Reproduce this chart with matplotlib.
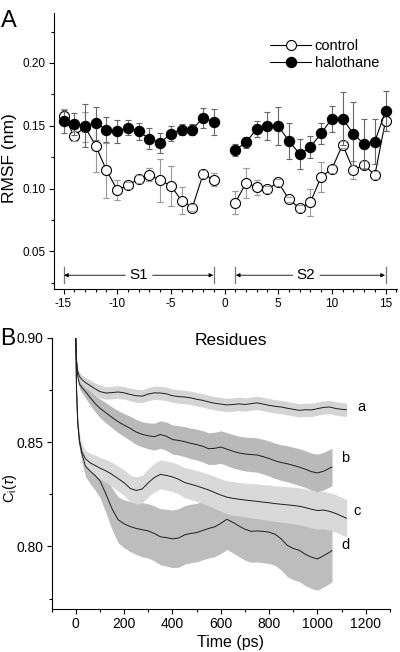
"""Two-panel figure: per-residue RMSF (A) and residue correlation decay C_i(tau) (B)."""
import matplotlib
matplotlib.use("Agg")
import matplotlib.pyplot as plt
from matplotlib.ticker import MultipleLocator, FormatStrFormatter
import numpy as np

plt.rcParams["font.family"] = ["Liberation Sans", "DejaVu Sans"]
plt.rcParams["mathtext.fontset"] = "custom"
plt.rcParams["mathtext.rm"] = "Liberation Sans"
plt.rcParams["mathtext.it"] = "Liberation Sans:italic"
plt.rcParams["axes.unicode_minus"] = False

# ── Panel A: RMSF per residue ────────────────────────────────
RES_S1 = [-15, -14, -13, -12, -11, -10, -9, -8, -7, -6, -5, -4, -3, -2, -1]
RES_S2 = [1, 2, 3, 4, 5, 6, 7, 8, 9, 10, 11, 12, 13, 14, 15]

CTRL_S1 = [0.158, 0.142, 0.149, 0.134, 0.1145, 0.099, 0.1025, 0.1077, 0.111,
           0.1066, 0.1022, 0.0904, 0.0849, 0.1114, 0.1072]
CTRL_S1_ERR = [0.005, 0.004, 0.012, 0.021, 0.022, 0.008, 0.003, 0.003, 0.005,
               0.017, 0.016, 0.011, 0.003, 0.003, 0.005]
HALO_S1 = [0.1535, 0.1513, 0.150, 0.152, 0.147, 0.1455, 0.1485, 0.1455, 0.1397,
           0.1363, 0.1437, 0.147, 0.147, 0.1565, 0.153]
HALO_S1_ERR = [0.009, 0.009, 0.017, 0.013, 0.010, 0.009, 0.006, 0.007, 0.0085,
               0.008, 0.006, 0.004, 0.004, 0.008, 0.010]

CTRL_S2 = [0.0888, 0.1043, 0.1011, 0.0993, 0.105, 0.0914, 0.0843, 0.089, 0.1093,
           0.1156, 0.135, 0.1148, 0.119, 0.1106, 0.154]
CTRL_S2_ERR = [0.009, 0.012, 0.006, 0.003, 0.003, 0.002, 0.003, 0.011, 0.012,
               0.003, 0.003, 0.007, 0.003, 0.003, 0.008]
HALO_S2 = [0.1306, 0.1368, 0.1475, 0.1498, 0.1498, 0.1378, 0.1275, 0.1331, 0.144,
           0.1555, 0.1555, 0.1437, 0.1353, 0.1374, 0.1616]
HALO_S2_ERR = [0.0045, 0.0045, 0.0065, 0.011, 0.015, 0.014, 0.012, 0.009, 0.0085,
               0.0105, 0.021, 0.025, 0.020, 0.018, 0.016]

# segment brackets: (label, start, end, label x)
SEGMENTS = [("S1", -15, -1, -8.0), ("S2", 1, 15, 7.6)]

# ── Panel B: C_i(tau) curves ─────────────────────────────────
T_LONG = [0, 3, 8, 15, 25, 40, 60, 80, 100, 125, 150, 175, 200, 225, 250, 275,
          300, 325, 350, 375, 400, 425, 450, 475, 500, 525, 550, 575, 600, 625,
          650, 675, 700, 725, 750, 775, 800, 825, 850, 875, 900, 925, 950, 975,
          1000, 1025, 1050, 1075, 1100, 1120]
T_SHORT = [0, 3, 8, 15, 25, 40, 60, 80, 100, 125, 150, 175, 200, 225, 250, 275,
           300, 325, 350, 375, 400, 425, 450, 475, 500, 525, 550, 575, 600, 625,
           650, 675, 700, 725, 750, 775, 800, 825, 850, 875, 900, 925, 950, 975,
           1000, 1025, 1050, 1060]

CURVE_A = [0.900, 0.889, 0.884, 0.8815, 0.880, 0.8785, 0.8770, 0.8755, 0.8742,
           0.8735, 0.8737, 0.8740, 0.8736, 0.8728, 0.8722, 0.8720, 0.8730, 0.8736,
           0.8735, 0.8731, 0.8722, 0.8718, 0.8716, 0.8712, 0.8705, 0.8700, 0.8692,
           0.8686, 0.8682, 0.8678, 0.8680, 0.8683, 0.8680, 0.8684, 0.8688, 0.8682,
           0.8676, 0.8671, 0.8668, 0.8662, 0.8657, 0.8652, 0.8655, 0.8654, 0.8660,
           0.8666, 0.8668, 0.8661, 0.8657, 0.8655]
ERR_A = [0.0, 0.001, 0.0015, 0.002, 0.0022, 0.0025, 0.0027, 0.0028, 0.003, 0.003,
         0.003, 0.003, 0.003, 0.0031, 0.0031, 0.0031, 0.0031, 0.0032, 0.0032, 0.0032,
         0.0032, 0.0032, 0.0032, 0.0032, 0.0032, 0.0032, 0.0032, 0.0032, 0.0032,
         0.0032, 0.0032, 0.0032, 0.0032, 0.0032, 0.0032, 0.0032, 0.0032, 0.0032,
         0.0032, 0.0032, 0.0032, 0.0032, 0.0032, 0.0032, 0.0032, 0.0032, 0.0032,
         0.0032, 0.0032, 0.0032]

CURVE_B = [0.900, 0.889, 0.8815, 0.8778, 0.8762, 0.8742, 0.8712, 0.8685, 0.8662,
           0.8640, 0.8618, 0.8598, 0.8581, 0.8566, 0.8548, 0.8537, 0.8530, 0.8526,
           0.8536, 0.8528, 0.8512, 0.8508, 0.8502, 0.8494, 0.8488, 0.8480, 0.8468,
           0.8470, 0.8476, 0.8466, 0.8456, 0.8448, 0.8443, 0.8440, 0.8438, 0.8430,
           0.8421, 0.8410, 0.8402, 0.8396, 0.8388, 0.8380, 0.8370, 0.8358, 0.8352,
           0.8360, 0.8375, 0.8380]
ERR_B = [0.0, 0.001, 0.0015, 0.002, 0.0025, 0.003, 0.0035, 0.004, 0.0045, 0.0048,
         0.005, 0.0053, 0.0055, 0.0058, 0.006, 0.006, 0.0062, 0.0064, 0.0066, 0.0068,
         0.007, 0.007, 0.0072, 0.0073, 0.0074, 0.0075, 0.0076, 0.0077, 0.0078,
         0.0079, 0.008, 0.008, 0.0081, 0.0082, 0.0082, 0.0083, 0.0084, 0.0085,
         0.0085, 0.0086, 0.0087, 0.0088, 0.0088, 0.0089, 0.009, 0.009, 0.009, 0.009]

CURVE_C = [0.900, 0.876, 0.860, 0.851, 0.8455, 0.8420, 0.8400, 0.8388, 0.8375,
           0.8362, 0.8345, 0.8325, 0.8305, 0.8278, 0.8268, 0.8275, 0.8305, 0.8330,
           0.8345, 0.8340, 0.8333, 0.8322, 0.8306, 0.8298, 0.8290, 0.8280, 0.8270,
           0.8258, 0.8246, 0.8236, 0.8230, 0.8226, 0.8222, 0.8219, 0.8216, 0.8212,
           0.8209, 0.8205, 0.8202, 0.8199, 0.8196, 0.8192, 0.8186, 0.8178, 0.8172,
           0.8174, 0.8168, 0.8158, 0.8145, 0.8135]
ERR_C = [0.0, 0.001, 0.002, 0.003, 0.0035, 0.004, 0.0045, 0.005, 0.0052, 0.0055,
         0.0058, 0.006, 0.0062, 0.0064, 0.0065, 0.0066, 0.0067, 0.0068, 0.0069, 0.007,
         0.007, 0.0071, 0.0072, 0.0073, 0.0074, 0.0075, 0.0076, 0.0077, 0.0078,
         0.0079, 0.008, 0.008, 0.0081, 0.0082, 0.0083, 0.0084, 0.0085, 0.0085,
         0.0086, 0.0087, 0.0088, 0.0088, 0.0089, 0.009, 0.009, 0.009, 0.009, 0.009,
         0.009, 0.009]

CURVE_D = [0.900, 0.875, 0.859, 0.850, 0.8445, 0.8385, 0.8360, 0.8340, 0.8315,
           0.8250, 0.8180, 0.8128, 0.8108, 0.8095, 0.8086, 0.8080, 0.8074, 0.8062,
           0.8046, 0.8042, 0.8036, 0.8040, 0.8055, 0.8062, 0.8066, 0.8076, 0.8086,
           0.8094, 0.8110, 0.8130, 0.8115, 0.8098, 0.8082, 0.8072, 0.8074, 0.8072,
           0.8068, 0.8058, 0.8036, 0.8005, 0.7990, 0.7981, 0.7962, 0.7948, 0.7940,
           0.7955, 0.7972, 0.7980]
ERR_D = [0.0, 0.001, 0.002, 0.003, 0.004, 0.005, 0.006, 0.007, 0.008, 0.009, 0.010,
         0.011, 0.0115, 0.012, 0.0125, 0.013, 0.013, 0.0132, 0.0134, 0.0136, 0.0138,
         0.014, 0.014, 0.014, 0.014, 0.014, 0.0142, 0.0143, 0.0144, 0.0145, 0.0146,
         0.0147, 0.0148, 0.0148, 0.0149, 0.015, 0.015, 0.015, 0.015, 0.015, 0.015,
         0.015, 0.015, 0.015, 0.015, 0.015, 0.015, 0.015]

# label, time axis, curve, error, band colour, label position
CURVES = [
    ("d", T_SHORT, CURVE_D, ERR_D, "#bdbdbd", (1100, 0.8005)),
    ("c", T_LONG, CURVE_C, ERR_C, "#d9d9d9", (1148, 0.8170)),
    ("b", T_SHORT, CURVE_B, ERR_B, "#b9b9b9", (1097, 0.8422)),
    ("a", T_LONG, CURVE_A, ERR_A, "#d4d4d4", (1166, 0.8667)),
]


def style_axes(ax, size):
    for side in ("top", "right"):
        ax.spines[side].set_visible(False)
    for side in ("left", "bottom"):
        ax.spines[side].set_linewidth(0.8)
    ax.tick_params(which="both", direction="out", width=0.8, labelsize=size,
                   pad=2.5)
    ax.tick_params(which="major", length=3.6)
    ax.tick_params(which="minor", length=2.0)


fig = plt.figure(figsize=(4.0, 6.52), dpi=100)

# ── Panel A ─────────────────────────────────────────────────
ax = fig.add_axes([0.1358, 0.5567, 0.857, 0.4238])
ECTRL, EHALO = "#9a9a9a", "#666666"
for res, ctrl, cerr, halo, herr in [
        (RES_S1, CTRL_S1, CTRL_S1_ERR, HALO_S1, HALO_S1_ERR),
        (RES_S2, CTRL_S2, CTRL_S2_ERR, HALO_S2, HALO_S2_ERR)]:
    res = np.array(res)
    ctrl, cerr = np.array(ctrl), np.array(cerr)
    halo, herr = np.array(halo), np.array(herr)
    ax.errorbar(res, ctrl, yerr=cerr, fmt="none", ecolor=ECTRL,
                elinewidth=0.8, capsize=2.2, capthick=0.8, zorder=1)
    ax.plot(res, ctrl, "-o", color="black", lw=0.8, ms=7.2,
            mfc="white", mec="black", mew=0.8, zorder=2)
    # Origin-style caps stay visible inside small markers
    ax.plot(res, ctrl + cerr, ls="none", marker="_", ms=4.4, mew=0.8,
            color=ECTRL, zorder=3)
    ax.plot(res, ctrl - cerr, ls="none", marker="_", ms=4.4, mew=0.8,
            color=ECTRL, zorder=3)
    ax.errorbar(res, halo, yerr=herr, fmt="none", ecolor=EHALO,
                elinewidth=0.8, capsize=2.2, capthick=0.8, zorder=4)
    ax.plot(res, halo, "-o", color="black", lw=0.8, ms=7.2,
            mfc="black", mec="black", zorder=5)

# legend proxies
ax.plot([], [], "-o", color="black", lw=0.8, ms=7.2, mfc="white",
        mew=0.8, label="control")
ax.plot([], [], "-o", color="black", lw=0.8, ms=7.2, mfc="black",
        label="halothane")
ax.legend(loc="upper left", bbox_to_anchor=(0.63, 0.905), frameon=False,
          fontsize=10.5, handlelength=2.8, handletextpad=0.25,
          labelspacing=0.22, borderpad=0, borderaxespad=0)

# segment brackets
ybr = 0.031
for name, x0, x1, xl in SEGMENTS:
    for xe in (x0, x1):
        ax.plot([xe, xe], [0.0245, 0.0378], color="#777777", lw=0.9)
    ax.annotate("", xy=(x0 + 0.05, ybr), xytext=(xl - 1.25, ybr),
                arrowprops=dict(arrowstyle="-|>", lw=0.6, color="black",
                                mutation_scale=6, shrinkA=0, shrinkB=0))
    ax.annotate("", xy=(x1 - 0.05, ybr), xytext=(xl + 1.3, ybr),
                arrowprops=dict(arrowstyle="-|>", lw=0.6, color="black",
                                mutation_scale=6, shrinkA=0, shrinkB=0))
    ax.text(xl, ybr, name, ha="center", va="center", fontsize=11)

ax.set_xlim(-15.86, 16.08)
ax.set_ylim(0.02, 0.24)
ax.xaxis.set_major_locator(MultipleLocator(5))
ax.xaxis.set_minor_locator(MultipleLocator(1))
ax.yaxis.set_major_locator(MultipleLocator(0.05))
ax.yaxis.set_minor_locator(MultipleLocator(0.025))
ax.yaxis.set_major_formatter(FormatStrFormatter("%.2f"))
ax.set_yticks([0.05, 0.10, 0.15, 0.20])
style_axes(ax, 8.5)
ax.set_ylabel("RMSF (nm)", fontsize=12.5)
ax.yaxis.set_label_coords(-0.108, 0.475)
fig.text(0.003, 0.985, "A", fontsize=17, ha="left", va="top")

# ── Panel B ─────────────────────────────────────────────────
ax = fig.add_axes([0.129, 0.066, 0.846, 0.416])
for name, t, y, e, band, _ in CURVES:
    t, y, e = np.array(t), np.array(y), np.array(e)
    ax.fill_between(t, y - e, y + e, color=band, lw=0, zorder=1)
for name, t, y, e, band, (lx, ly) in CURVES:
    ax.plot(t, y, color="#1e1e1e", lw=0.7, zorder=3)
    ax.text(lx, ly, name, fontsize=10.5, ha="left", va="center")

ax.text(640, 0.8988, "Residues", fontsize=12.5, ha="center", va="center")
ax.set_xlim(-100, 1300)
ax.set_ylim(0.77, 0.90)
ax.xaxis.set_major_locator(MultipleLocator(200))
ax.xaxis.set_minor_locator(MultipleLocator(100))
ax.set_yticks([0.80, 0.85, 0.90])
ax.yaxis.set_minor_locator(MultipleLocator(0.025))
ax.yaxis.set_major_formatter(FormatStrFormatter("%.2f"))
style_axes(ax, 10)
ax.set_xlabel("Time (ps)", fontsize=11.5)
ax.xaxis.set_label_coords(0.53, -0.095)
ax.set_ylabel(r"C$_\mathrm{i}$($\tau$)", fontsize=10.5)
ax.yaxis.set_label_coords(-0.095, 0.444)
fig.text(0.0, 0.498, "B", fontsize=16.5, ha="left", va="top")

fig.savefig("out.png", dpi=100)
